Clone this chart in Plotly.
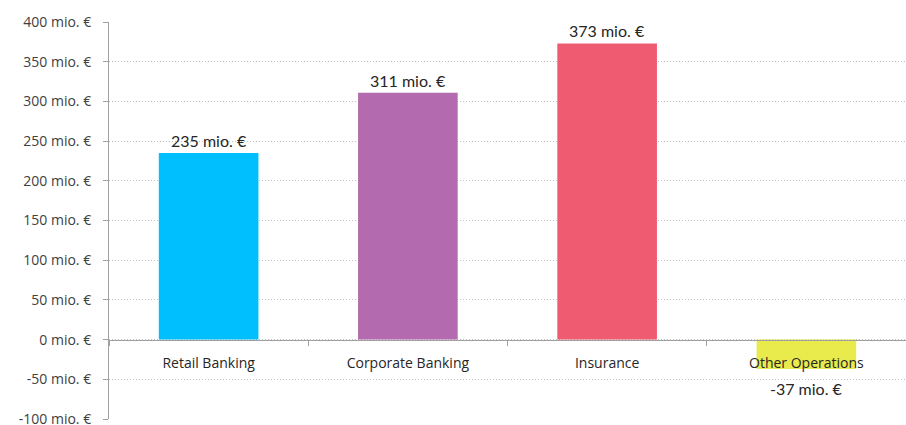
import plotly.graph_objects as go

categories = ["Retail Banking", "Corporate Banking", "Insurance", "Other Operations"]
values = [235, 311, 373, -37]
colors = ["#00BFFF", "#B36AAE", "#EF5B71", "#E9EA4C"]
y_ticks = list(range(-100, 401, 50))
y_ticktext = [f"{v} mio. €" for v in y_ticks]
y_min, y_max = -100, 400

fig = go.Figure()
fig.add_trace(go.Bar(
    x=categories, y=values,
    marker=dict(color=colors, line=dict(width=0)),
    width=0.5,
    cliponaxis=False,
    showlegend=False,
))

for c, v in zip(categories, values):
    fig.add_annotation(
        x=c, y=v, text=f"{v} mio. €", showarrow=False,
        yanchor="bottom" if v >= 0 else "top",
        yshift=1 if v >= 0 else -8,
        font=dict(size=16, color="#262626", family="Lato"),
    )

zero_pos = (0 - y_min) / (y_max - y_min)

fig.update_layout(
    width=906, height=425,
    margin=dict(l=109, r=0, t=22, b=6),
    plot_bgcolor="white", paper_bgcolor="white",
    font=dict(family="Open Sans", color="#404040"),
    xaxis=dict(
        anchor="free", position=zero_pos, automargin=False,
        showline=True, linecolor="#a0a0a0", linewidth=1,
        ticks="outside", ticklen=5, tickcolor="#a0a0a0",
        tickson="boundaries",
        tickfont=dict(size=14, color="#262626", family="Open Sans"),
        ticklabelstandoff=11,
        showgrid=False,
    ),
    yaxis=dict(
        range=[y_min, y_max], automargin=False,
        tickmode="array",
        tickvals=y_ticks,
        ticktext=y_ticktext,
        tickfont=dict(size=14, color="#404040", family="Open Sans"),
        ticklabeloverflow="allow",
        showline=True, linecolor="#a0a0a0", linewidth=1,
        ticks="outside", ticklen=5, tickcolor="#a0a0a0",
        ticklabelstandoff=9,
        showgrid=True, gridcolor="#bfbfbf", griddash="1px,2px", gridwidth=1,
        zeroline=False,
    ),
)

fig.write_html("out.html")
